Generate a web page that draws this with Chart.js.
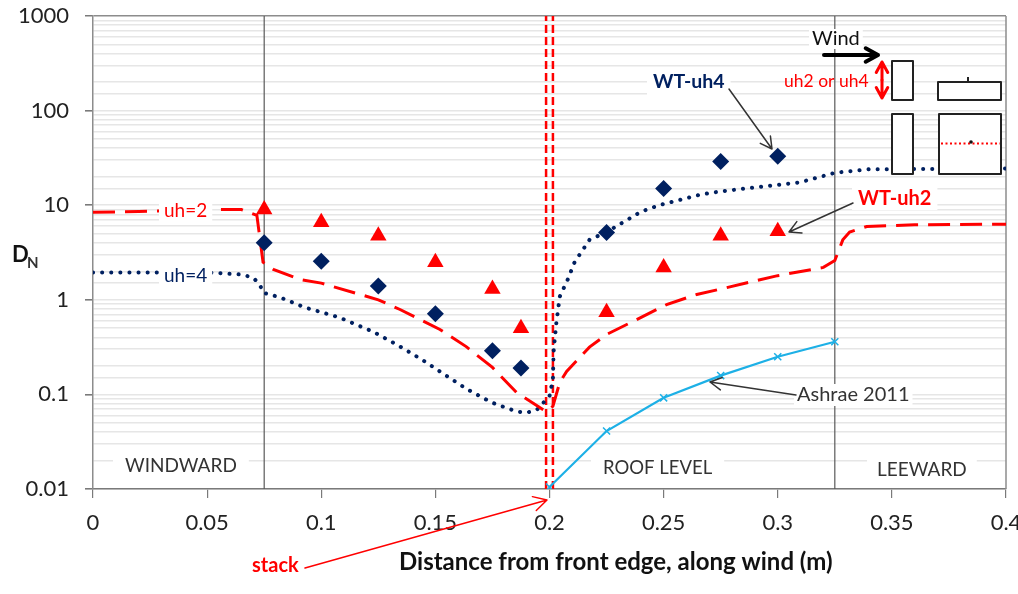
<!DOCTYPE html>
<html>
<head>
<meta charset="utf-8">
<title>Dilution vs distance</title>
<script src="https://cdn.jsdelivr.net/npm/chart.js@4"></script>
<style>
    html, body { margin: 0; padding: 0; background: #fff; }
    #wrap { width: 1018px; height: 594px; overflow: hidden; }
    canvas { display: block; }
</style>
</head>
<body>
<div id="wrap"><canvas id="chart" width="1018" height="594"></canvas></div>
<script>
const uh2X = [0, 0.02, 0.05, 0.065, 0.0718, 0.0725, 0.0745, 0.079, 0.0906, 0.1, 0.125, 0.1345, 0.152, 0.1635, 0.175, 0.1855, 0.1985, 0.2015, 0.2045, 0.2075, 0.2175, 0.225, 0.2365, 0.2513, 0.2645, 0.275, 0.3, 0.32, 0.325, 0.3285, 0.3315, 0.339, 0.36, 0.4];
const uh2Y = [8.4, 8.6, 9, 9, 7.8, 5.8, 2.5, 2.1, 1.64, 1.5, 1.0, 0.79, 0.485, 0.32, 0.193, 0.105, 0.066, 0.075, 0.134, 0.175, 0.316, 0.43, 0.59, 0.89, 1.14, 1.3, 1.8, 2.2, 2.6, 4.3, 5.2, 5.96, 6.2, 6.3];

const uh4X = [0, 0.05, 0.065, 0.0701, 0.0731, 0.0745, 0.082, 0.0928, 0.108, 0.1227, 0.1336, 0.144, 0.154, 0.164, 0.1747, 0.1855, 0.19, 0.1945, 0.197, 0.2, 0.2015, 0.2018, 0.203, 0.2045, 0.208, 0.211, 0.2175, 0.225, 0.24, 0.248, 0.2658, 0.275, 0.3095, 0.325, 0.34, 0.4];
const uh4Y = [1.94, 1.95, 1.85, 1.72, 1.45, 1.19, 1.06, 0.83, 0.65, 0.46, 0.33, 0.234, 0.162, 0.113, 0.082, 0.066, 0.064, 0.069, 0.08, 0.096, 0.145, 0.285, 0.57, 1.08, 1.64, 2.5, 4.3, 5.2, 8.5, 10, 12.9, 14, 17.4, 22, 24, 24.4];

const wtUh4X = [0.075, 0.1, 0.125, 0.15, 0.175, 0.1875, 0.225, 0.25, 0.275, 0.3];
const wtUh4Y = [4.0, 2.55, 1.4, 0.71, 0.29, 0.19, 5.15, 15, 29, 33];

const wtUh2X = [0.075, 0.1, 0.125, 0.15, 0.175, 0.1875, 0.225, 0.25, 0.275, 0.3];
const wtUh2Y = [9.0, 6.6, 4.75, 2.5, 1.3, 0.5, 0.74, 2.2, 4.75, 5.3];

const ashraeX = [0.2, 0.225, 0.25, 0.275, 0.3, 0.325];
const ashraeY = [0.0105, 0.041, 0.092, 0.158, 0.25, 0.36];

const zoneX = [0.075, 0.325];
const stackX = [0.1985, 0.2015];
const yRange = [0.01, 1000];

const RED = '#ff0000';
const NAVY = '#002060';
const FONT = 'Lato, sans-serif';

function toPoints(xs, ys) {
    return xs.map((x, i) => ({ x: x, y: ys[i] }));
}

function isDecade(v) {
    return v.toExponential()[0] === '1' && v.toExponential()[1] === 'e';
}

function vertical(x, color, width, dash) {
    return {
        data: toPoints([x, x], yRange),
        showLine: true,
        borderColor: color,
        borderWidth: width,
        borderDash: dash,
        pointRadius: 0,
        order: 5
    };
}

function label(ctx, text, x, y, size, color, weight, box) {
    ctx.font = (weight || 'normal') + ' ' + size + 'px ' + FONT;
    ctx.textAlign = 'left';
    ctx.textBaseline = 'middle';
    if (box) {
        const w = ctx.measureText(text).width;
        ctx.fillStyle = '#fff';
        ctx.fillRect(x - box[0], y - box[1], w + box[0] * 2, box[1] * 2);
    }
    ctx.fillStyle = color;
    ctx.fillText(text, x, y);
}

function arrow(ctx, x1, y1, x2, y2, color, width, head) {
    const a = Math.atan2(y2 - y1, x2 - x1);
    ctx.strokeStyle = color;
    ctx.lineWidth = width;
    ctx.lineCap = 'round';
    ctx.lineJoin = 'round';
    ctx.setLineDash([]);
    ctx.beginPath();
    ctx.moveTo(x1, y1);
    ctx.lineTo(x2, y2);
    ctx.moveTo(x2 - head * Math.cos(a - 0.5), y2 - head * Math.sin(a - 0.5));
    ctx.lineTo(x2, y2);
    ctx.lineTo(x2 - head * Math.cos(a + 0.5), y2 - head * Math.sin(a + 0.5));
    ctx.stroke();
}

// right hand frame edge, the other three come from the axes
const frame = {
    id: 'frame',
    beforeDatasetsDraw(chart) {
        const ctx = chart.ctx, a = chart.chartArea;
        ctx.save();
        ctx.strokeStyle = '#8c8c8c';
        ctx.lineWidth = 1.5;
        ctx.beginPath();
        ctx.moveTo(a.right, a.top);
        ctx.lineTo(a.right, a.bottom);
        ctx.stroke();
        ctx.restore();
    }
};

// text, arrows and the little building sketch
const notes = {
    id: 'notes',
    afterDatasetsDraw(chart) {
        const ctx = chart.ctx;
        ctx.save();

        label(ctx, 'uh=2', 164, 211, 19, RED, 'normal', [5, 11]);
        label(ctx, 'uh=4', 164, 276, 19, NAVY, 'normal', [5, 11]);
        label(ctx, 'WINDWARD', 125, 466, 19, '#333', 'normal', [12, 12]);
        label(ctx, 'ROOF LEVEL', 603, 468, 18.5, '#333', 'normal', [12, 12]);
        label(ctx, 'LEEWARD', 877, 470, 19, '#333', 'normal', [10, 12]);
        label(ctx, 'WT-uh4', 653, 82, 19.5, NAVY, 'bold', [6, 13]);
        label(ctx, 'WT-uh2', 858, 199, 20, RED, 'bold', [6, 11]);
        label(ctx, 'Ashrae 2011', 797, 395, 20, '#333', 'normal', [3, 11]);
        label(ctx, 'Wind', 812, 39, 20, '#111', 'normal', [3, 10]);
        label(ctx, 'uh2 or uh4', 784, 81, 17.5, RED);

        label(ctx, 'D', 12, 255, 22, '#111', 'bold');
        label(ctx, 'N', 27, 263, 15, '#333', 'bold');
        label(ctx, 'Distance from front edge, along wind (m)', 399, 562, 24, '#111', 'bold');
        label(ctx, 'stack', 252, 566, 20, RED, 'bold');

        arrow(ctx, 729, 89, 772, 149, '#333', 1.5, 13);
        arrow(ctx, 853, 203, 789, 232, '#333', 1.5, 13);
        arrow(ctx, 796, 395, 710, 382, '#333', 1.5, 13);
        arrow(ctx, 305, 568, 547, 500, RED, 1.5, 15);
        arrow(ctx, 824, 55, 878, 55, '#000', 4, 14);

        // double headed height arrow
        arrow(ctx, 882, 80, 882, 62, RED, 3, 12);
        arrow(ctx, 882, 80, 882, 98, RED, 3, 12);

        ctx.strokeStyle = '#222';
        ctx.fillStyle = '#fff';
        ctx.lineWidth = 2;
        ctx.lineCap = 'butt';
        [[892, 61, 21, 39], [938, 82, 63, 18], [892, 114, 21, 60], [939, 114, 62, 60]].forEach(r => {
            ctx.fillRect(r[0], r[1], r[2], r[3]);
            ctx.strokeRect(r[0], r[1], r[2], r[3]);
        });
        ctx.beginPath();
        ctx.moveTo(968, 82);
        ctx.lineTo(968, 77);
        ctx.stroke();

        ctx.strokeStyle = RED;
        ctx.setLineDash([2, 2.5]);
        ctx.beginPath();
        ctx.moveTo(941, 143.5);
        ctx.lineTo(1000, 143.5);
        ctx.stroke();
        ctx.setLineDash([]);
        ctx.fillStyle = '#111';
        ctx.beginPath();
        ctx.arc(971, 142, 1.8, 0, Math.PI * 2);
        ctx.fill();

        ctx.restore();
    }
};

new Chart(document.getElementById('chart'), {
    type: 'scatter',
    data: {
        datasets: [
            vertical(zoneX[0], '#595959', 1.2),
            vertical(zoneX[1], '#595959', 1.2),
            vertical(stackX[0], RED, 2.5, [8, 4]),
            vertical(stackX[1], RED, 2.5, [8, 4]),
            {
                label: 'uh=2',
                data: toPoints(uh2X, uh2Y),
                showLine: true,
                borderColor: RED,
                borderWidth: 3,
                borderDash: [22, 10],
                pointRadius: 0,
                order: 3
            },
            {
                label: 'uh=4',
                data: toPoints(uh4X, uh4Y),
                showLine: true,
                borderColor: NAVY,
                borderWidth: 4,
                borderCapStyle: 'round',
                borderDash: [0.1, 9],
                pointRadius: 0,
                order: 4
            },
            {
                label: 'WT-uh4',
                data: toPoints(wtUh4X, wtUh4Y),
                pointStyle: 'rectRot',
                pointRadius: 8.5,
                backgroundColor: NAVY,
                borderColor: NAVY,
                borderWidth: 0,
                order: 1
            },
            {
                label: 'WT-uh2',
                data: toPoints(wtUh2X, wtUh2Y),
                pointStyle: 'triangle',
                pointRadius: 9.5,
                backgroundColor: RED,
                borderColor: RED,
                borderWidth: 0,
                order: 1
            },
            {
                label: 'Ashrae 2011',
                data: toPoints(ashraeX, ashraeY),
                showLine: true,
                borderColor: '#1db0e6',
                borderWidth: 2.2,
                pointStyle: 'crossRot',
                pointRadius: 5,
                pointBorderColor: '#1db0e6',
                pointBorderWidth: 1.5,
                order: 2
            }
        ]
    },
    options: {
        responsive: false,
        animation: false,
        layout: { padding: { top: 16, right: 12, left: 0, bottom: 0 } },
        plugins: { legend: { display: false }, tooltip: { enabled: false } },
        scales: {
            x: {
                type: 'linear',
                min: 0,
                max: 0.4,
                afterFit(scale) {
                    scale.height = 105;
                    scale.paddingLeft = 0;
                    scale.paddingRight = 0;
                },
                border: { color: '#7a7a7a', width: 1.5 },
                grid: { drawOnChartArea: false, tickLength: 9, color: '#7a7a7a', lineWidth: 1.2 },
                ticks: {
                    stepSize: 0.05,
                    padding: 12,
                    maxRotation: 0,
                    color: '#222',
                    font: { family: FONT, size: 22 },
                    callback: v => String(Number(v.toFixed(2)))
                }
            },
            y: {
                type: 'logarithmic',
                min: 0.01,
                max: 1000,
                afterFit(scale) {
                    scale.width = 93;
                    scale.paddingTop = 0;
                    scale.paddingBottom = 0;
                },
                border: { color: '#8c8c8c', width: 1.5 },
                grid: {
                    tickLength: 8,
                    color: c => c.tick.value === 1000 ? '#8c8c8c' : '#e6e6e6',
                    lineWidth: c => c.tick.value === 1000 ? 1.5 : 1.6,
                    tickColor: c => isDecade(c.tick.value) ? '#7a7a7a' : 'rgba(0,0,0,0)'
                },
                ticks: {
                    autoSkip: false,
                    padding: 16,
                    color: '#222',
                    font: { family: FONT, size: 22 },
                    callback: v => isDecade(v) ? String(v) : ''
                }
            }
        }
    },
    plugins: [frame, notes]
});
</script>
</body>
</html>
